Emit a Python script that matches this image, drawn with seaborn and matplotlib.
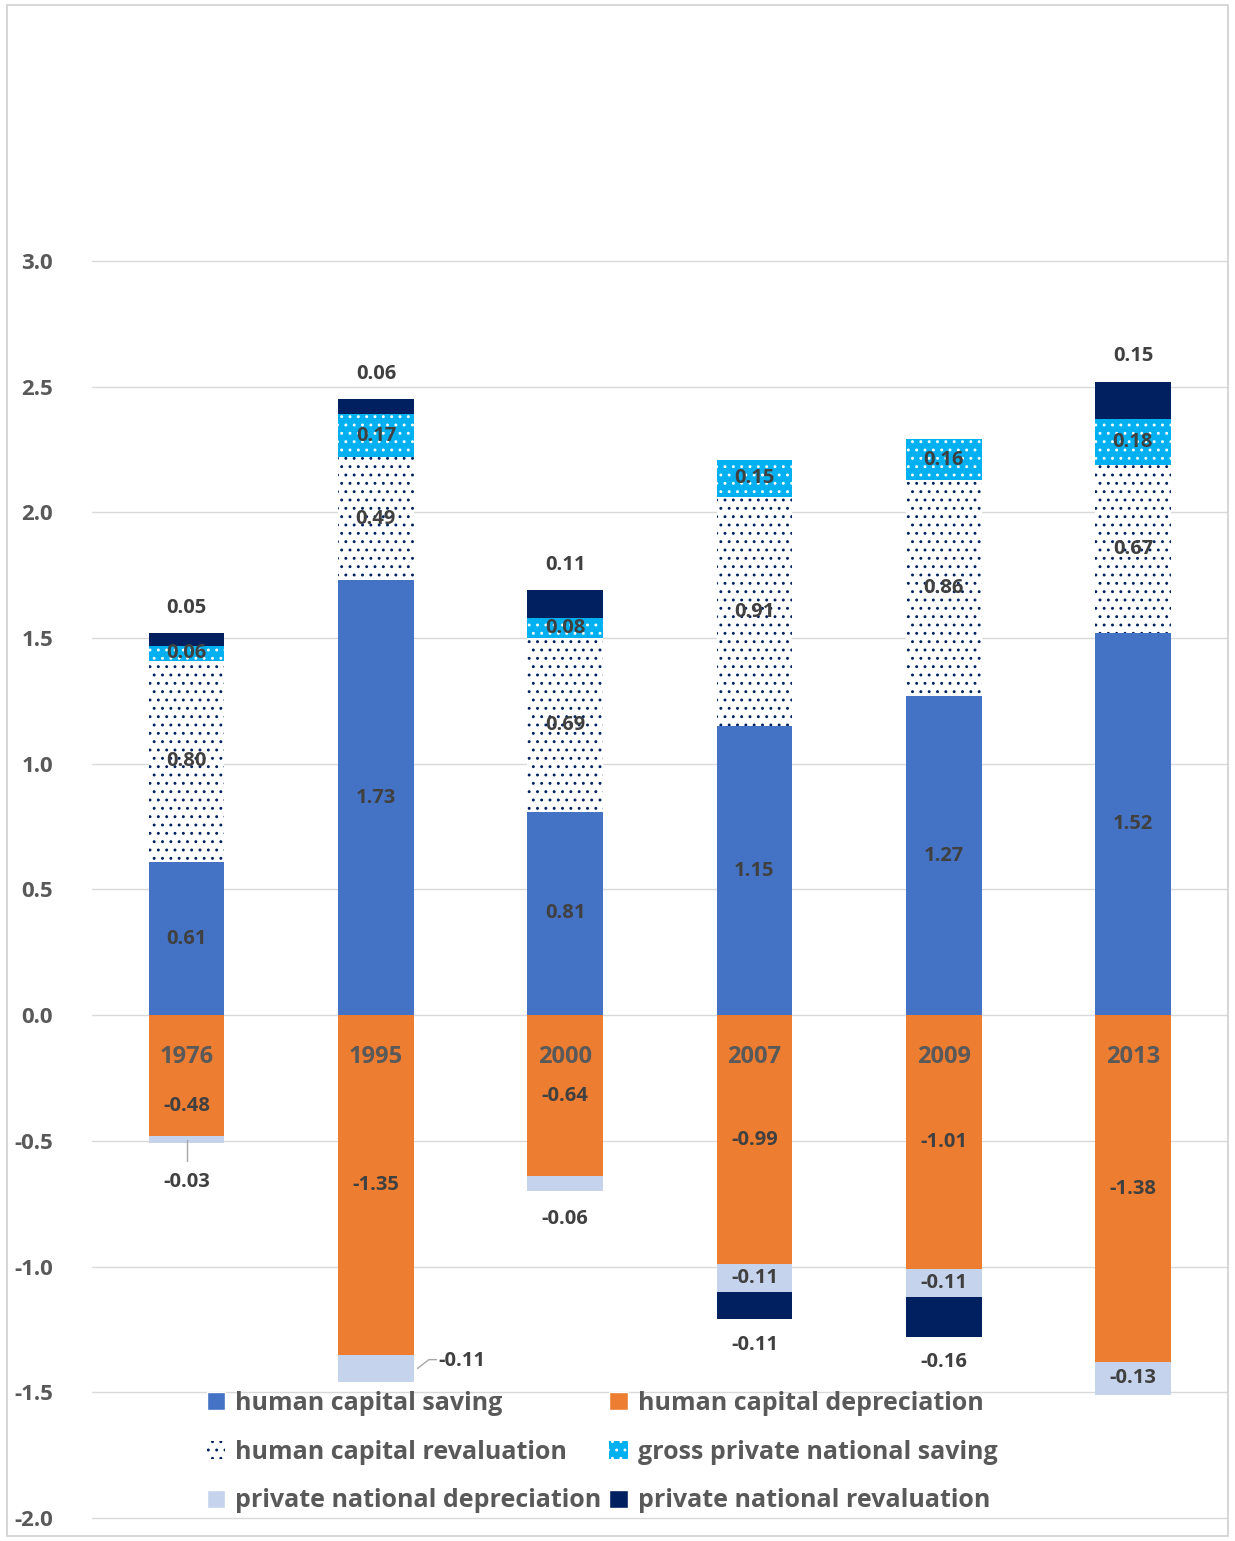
import numpy as np
import matplotlib
matplotlib.use('Agg')
import matplotlib.pyplot as plt
import seaborn as sns
from matplotlib.patches import Patch

years = ['1976', '1995', '2000', '2007', '2009', '2013']
hc_saving = [0.61, 1.73, 0.81, 1.15, 1.27, 1.52]
hc_reval = [0.80, 0.49, 0.69, 0.91, 0.86, 0.67]
gp_saving = [0.06, 0.17, 0.08, 0.15, 0.16, 0.18]
hc_dep = [-0.48, -1.35, -0.64, -0.99, -1.01, -1.38]
pn_dep = [-0.03, -0.11, -0.06, -0.11, -0.11, -0.13]
pn_reval = [0.05, 0.06, 0.11, -0.11, -0.16, 0.15]

sns.set_style('white')
plt.rcParams['font.family'] = ['Open Sans', 'DejaVu Sans']
plt.rcParams['hatch.linewidth'] = 0.9
txt = '#404040'
fs = 14.5

fig = plt.figure(figsize=(12.35, 15.41), dpi=100)
ax = fig.add_axes([0.0745, 0.0136, 0.9195, 0.983])
fig.patches.append(plt.Rectangle((0.006, 0.003), 0.988, 0.994, transform=fig.transFigure,
                                 fill=False, edgecolor='#d0d0d0', lw=1.2))

x = np.arange(len(years))
w = 0.4
c_blue, c_orange, c_cyan, c_navy, c_light = '#4472c4', '#ed7d31', '#00b0f0', '#002060', '#c5d3ec'

pos_base = np.zeros(6)
neg_base = np.zeros(6)

def stack(vals, color, hatch=None, hcolor=None):
    vals = np.array(vals)
    bottoms = np.where(vals >= 0, pos_base, neg_base)
    sns.barplot(x=x, y=vals, bottom=bottoms, color=color, width=w, ax=ax,
                native_scale=True, saturation=1, linewidth=0,
                hatch=hatch, edgecolor=hcolor if hcolor else color)
    mids = bottoms + vals / 2
    pos_base[:] = np.where(vals >= 0, pos_base + vals, pos_base)
    neg_base[:] = np.where(vals < 0, neg_base + vals, neg_base)
    return bottoms, mids

def lab(xx, yy, s, ha='center', size=fs):
    ax.text(xx, yy, s, ha=ha, va='center', fontsize=size, weight='bold', color=txt)

_, m = stack(hc_saving, c_blue)
for i, v in enumerate(hc_saving):
    lab(x[i], m[i], f'{v:.2f}')
_, m = stack(hc_reval, 'white', '..', c_navy)
for i, v in enumerate(hc_reval):
    lab(x[i], m[i], f'{v:.2f}')
_, m = stack(gp_saving, c_cyan, '..', 'white')
for i, v in enumerate(gp_saving):
    lab(x[i], m[i], f'{v:.2f}')
_, m = stack(hc_dep, c_orange)
for i, v in enumerate(hc_dep):
    lab(x[i], -0.36 if i == 0 else m[i], f'{v:.2f}')
    ax.text(x[i], -0.165, years[i], ha='center', va='center', fontsize=17, weight='bold', color='#595959')
b, m = stack(pn_dep, c_light)
for i, v in enumerate(pn_dep):
    s = f'{v:.2f}'
    if i == 0:
        ax.plot([x[i], x[i]], [m[i], -0.58], color='#a6a6a6', lw=1)
        lab(x[i], -0.665, s)
    elif i == 1:
        ax.plot([x[i] + 0.22, x[i] + 0.28, x[i] + 0.32], [m[i], -1.37, -1.37], color='#a6a6a6', lw=1)
        lab(x[i] + 0.33, -1.375, s, ha='left')
    elif i == 2:
        lab(x[i], -0.81, s)
    else:
        lab(x[i], m[i], s)
b, m = stack(pn_reval, c_navy)
for i, v in enumerate(pn_reval):
    top = b[i] + v
    lab(x[i], top + 0.1 if v > 0 else top - 0.1, f'{v:.2f}')

ax.set_xlim(-0.5, 5.5)
ax.set_ylim(-2.008, 4.017)
ticks = np.arange(-2, 3.01, 0.5)
ax.set_yticks(ticks)
ax.set_yticklabels([f'{t:.1f}' for t in ticks], fontsize=16, weight='bold', color='#595959')
ax.set_xticks([])
ax.yaxis.grid(True, color='#d9d9d9', lw=1)
ax.set_axisbelow(True)
for s in ax.spines.values():
    s.set_visible(False)
ax.tick_params(axis='y', length=0, pad=28)

# legend order: row-wise as in the reference (matplotlib fills column-wise)
handles = [Patch(facecolor=c_blue, label='human capital saving'),
           Patch(facecolor='white', edgecolor=c_navy, hatch='..', lw=0, label='human capital revaluation'),
           Patch(facecolor=c_light, label='private national depreciation'),
           Patch(facecolor=c_orange, label='human capital depreciation'),
           Patch(facecolor=c_cyan, edgecolor='white', hatch='..', lw=0, label='gross private national saving'),
           Patch(facecolor=c_navy, label='private national revaluation')]
leg = fig.legend(handles=handles, ncol=2, loc='upper left', bbox_to_anchor=(0.149, 0.112),
                 frameon=False, fontsize=18, handlelength=0.75, handleheight=0.75,
                 handletextpad=0.4, columnspacing=0.3, labelspacing=0.95)
for t in leg.get_texts():
    t.set_color('#595959')
    t.set_weight('bold')

fig.savefig('out.png', dpi=100)
